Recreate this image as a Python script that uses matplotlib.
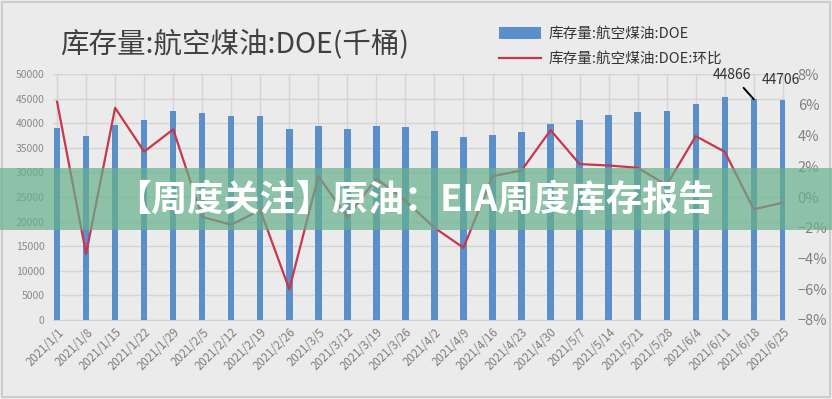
import numpy as np
import matplotlib
matplotlib.use('Agg')
import matplotlib.pyplot as plt
from matplotlib.patches import Rectangle

plt.rcParams['font.family'] = ['Noto Sans CJK SC', 'DejaVu Sans']
plt.rcParams['axes.unicode_minus'] = True

# 数据
dates = ['2021/1/1', '2021/1/8', '2021/1/15', '2021/1/22', '2021/1/29',
         '2021/2/5', '2021/2/12', '2021/2/19', '2021/2/26', '2021/3/5',
         '2021/3/12', '2021/3/19', '2021/3/26', '2021/4/2', '2021/4/9',
         '2021/4/16', '2021/4/23', '2021/4/30', '2021/5/7', '2021/5/14',
         '2021/5/21', '2021/5/28', '2021/6/4', '2021/6/11', '2021/6/18',
         '2021/6/25']
stock = [39100, 37500, 39700, 40700, 42450, 42050, 41370, 41370, 38870, 39480,
         38870, 39340, 39200, 38390, 37170, 37650, 38180, 39880, 40700, 41580,
         42250, 42390, 43950, 45230, 44866, 44706]
wow = [6.2, -3.7, 5.8, 2.95, 4.4, -1.3, -1.8, -0.85, -6.0, 1.35,
       -1.3, 1.2, -0.25, -2.0, -3.3, 1.35, 1.73, 4.35, 2.14, 2.05,
       1.9, 0.78, 3.96, 2.94, -0.8, -0.37]

bg = '#ebebeb'
fig = plt.figure(figsize=(8.32, 3.99), dpi=100, facecolor=bg)
fig.patches.append(Rectangle((0.003, 0.005), 0.994, 0.99, transform=fig.transFigure,
                             fill=False, edgecolor='#c8c8c8', linewidth=1.2))

ax1 = fig.add_axes([0.0637, 0.198, 0.88, 0.6165])
ax1.set_facecolor(bg)
x = np.arange(len(dates))

ax1.bar(x, stock, width=0.22, color='#5a8fc9', zorder=3, label='库存量:航空煤油:DOE')
ax1.set_ylim(0, 50000)
ax1.set_yticks(np.arange(0, 50001, 5000))
ax1.set_xlim(-0.14, 25.08)
ax1.set_xticks(x)
ax1.set_xticklabels(dates, rotation=45, ha='right', rotation_mode='anchor',
                    fontsize=8.3, color='#7f7f7f')
ax1.tick_params(axis='y', labelsize=7.5, labelcolor='#8a8a8a', length=0, pad=6)
ax1.tick_params(axis='x', length=0, pad=4)
ax1.grid(True, color='#d4d4d4', linewidth=1, zorder=0)
for s in ['top', 'right', 'left']:
    ax1.spines[s].set_visible(False)
ax1.spines['bottom'].set_color('#d0d0d0')

ax2 = ax1.twinx()
ax2.plot(x, wow, color='#c8374b', linewidth=1.6, zorder=4, label='库存量:航空煤油:DOE:环比')
ax2.set_ylim(-8, 8)
ax2.set_yticks(np.arange(-8, 9, 2))
ax2.set_yticklabels(['−%d%%' % -v if v < 0 else '%d%%' % v for v in range(-8, 9, 2)])
ax2.tick_params(axis='y', labelsize=10.5, labelcolor='#7f7f7f', length=0, pad=9)
for s in ax2.spines.values():
    s.set_visible(False)

# 数据标签
ax1.annotate('44866', xy=(24, stock[24]), xytext=(23.25, 49800),
             ha='center', va='center', fontsize=10, color='#333333',
             arrowprops=dict(arrowstyle='-', color='black', lw=1.4, shrinkA=3, shrinkB=0))
ax1.text(24.95, 48800, '44706', ha='center', va='center', fontsize=10, color='#333333')

# 标题与图例
fig.text(0.072, 0.888, '库存量:航空煤油:DOE(千桶)', fontsize=20.5, color='#404040',
         ha='left', va='center')
h1, l1 = ax1.get_legend_handles_labels()
h2, l2 = ax2.get_legend_handles_labels()
fig.legend(h1 + h2, l1 + l2, loc='upper left', bbox_to_anchor=(0.584, 0.965),
           frameon=False, fontsize=10.5, handlelength=2.9, handleheight=0.9,
           labelspacing=0.75, handletextpad=0.5, labelcolor='#333333')

# 横幅
fig.patches.append(Rectangle((0, 0.4236), 1, 0.1554, transform=fig.transFigure,
                             facecolor='#66b08c', alpha=0.7, edgecolor='none', zorder=10))
fig.text(0.499, 0.499, '【周度关注】原油：EIA周度库存报告', fontsize=26, fontweight='heavy',
         color='white', ha='center', va='center', zorder=11)

fig.savefig('out.png', dpi=100, facecolor=bg)
